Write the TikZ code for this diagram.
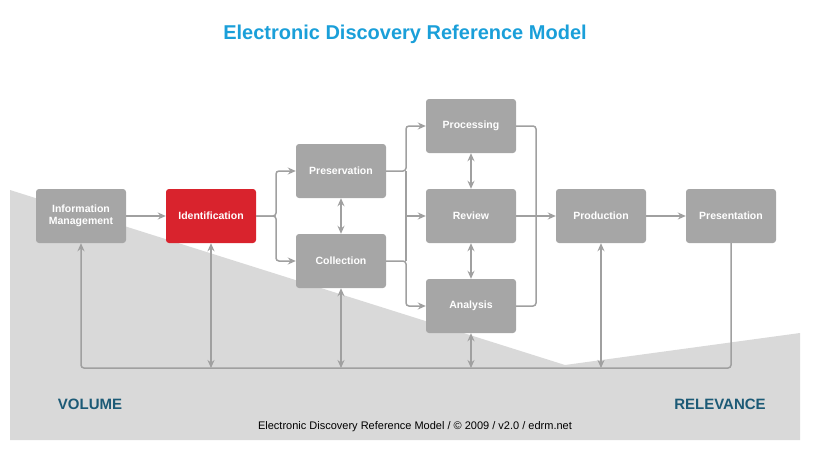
\documentclass[tikz,border=0pt]{standalone}
\usepackage{fontspec}
\setmainfont{Liberation Sans}
\usetikzlibrary{positioning, arrows.meta, calc}
\definecolor{EDRMgray}{RGB}{166,166,166}
\definecolor{EDRMline}{RGB}{160,160,160}
\definecolor{EDRMred}{RGB}{217,35,45}
\definecolor{EDRMblue}{RGB}{26,159,217}
\definecolor{EDRMteal}{RGB}{28,90,118}
\definecolor{EDRMbg}{RGB}{217,217,217}
\begin{document}
\begin{tikzpicture}[x=1pt, y=-1pt, >={Stealth[length=8pt,width=7pt]},
  stage/.style={
    rounded corners=3pt,
    fill=EDRMgray,
    text=white,
    align=center,
    font=\bfseries\fontsize{10.5}{12}\selectfont,
    minimum width=90pt,
    minimum height=54pt,
    inner sep=1pt
  },
  link/.style={draw=EDRMline, line width=1.5pt, rounded corners=3pt}
]
  \useasboundingbox (0,0) rectangle (820,450);
  % background wedge
  \fill[EDRMbg] (10,190) -- (565,365) -- (800,333) -- (800,440) -- (10,440) -- cycle;

  \node[font=\bfseries\fontsize{20}{24}\selectfont, text=EDRMblue] (title) at (405,34) {Electronic Discovery Reference Model};

  \node[stage] (info) at (81,216) {Information\\Management};
  \node[stage, fill=EDRMred] (ident) at (211,216) {Identification};
  \node[stage] (pres) at (341,171) {Preservation};
  \node[stage] (coll) at (341,261) {Collection};
  \node[stage] (proc) at (471,126) {Processing};
  \node[stage] (rev) at (471,216) {Review};
  \node[stage] (ana) at (471,306) {Analysis};
  \node[stage] (prod) at (601,216) {Production};
  \node[stage] (pstn) at (731,216) {Presentation};

  % forward flow
  \draw[link, ->] (info) -- (ident);
  \draw[link, ->] (ident.east) -| (276,171) -- (pres.west);
  \draw[link, ->] (ident.east) -| (276,261) -- (coll.west);
  \draw[link, <->] (pres) -- (coll);
  \draw[link, ->] (pres.east) -| (406,126) -- (proc.west);
  \draw[link, ->] (coll.east) -| (406,306) -- (ana.west);
  \draw[link, ->] (406,216) -- (rev.west);
  \draw[link] (406,171) -- (406,261);
  \draw[link, <->] (proc) -- (rev);
  \draw[link, <->] (rev) -- (ana);
  \draw[link] (proc.east) -| (536,216);
  \draw[link] (ana.east) -| (536,216);
  \draw[link, ->] (rev.east) -- (prod.west);
  \draw[link, ->] (prod) -- (pstn);

  % feedback line
  \coordinate (back) at (81,368);
  \draw[link, ->] (pstn.south) |- (back) -- (info.south);
  \draw[link, <->] (ident.south) -- (ident.south |- back);
  \draw[link, <->] (coll.south) -- (coll.south |- back);
  \draw[link, <->] (ana.south) -- (ana.south |- back);
  \draw[link, <->] (prod.south) -- (prod.south |- back);

  \node[font=\bfseries\fontsize{15}{18}\selectfont, text=EDRMteal] (vol) at (90,404) {VOLUME};
  \node[font=\bfseries\fontsize{15}{18}\selectfont, text=EDRMteal] (rel) at (720,404) {RELEVANCE};
  \node[font=\fontsize{11}{13}\selectfont] (foot) at (415,427) {Electronic Discovery Reference Model / © 2009 / v2.0 / edrm.net};
\end{tikzpicture}
\end{document}
